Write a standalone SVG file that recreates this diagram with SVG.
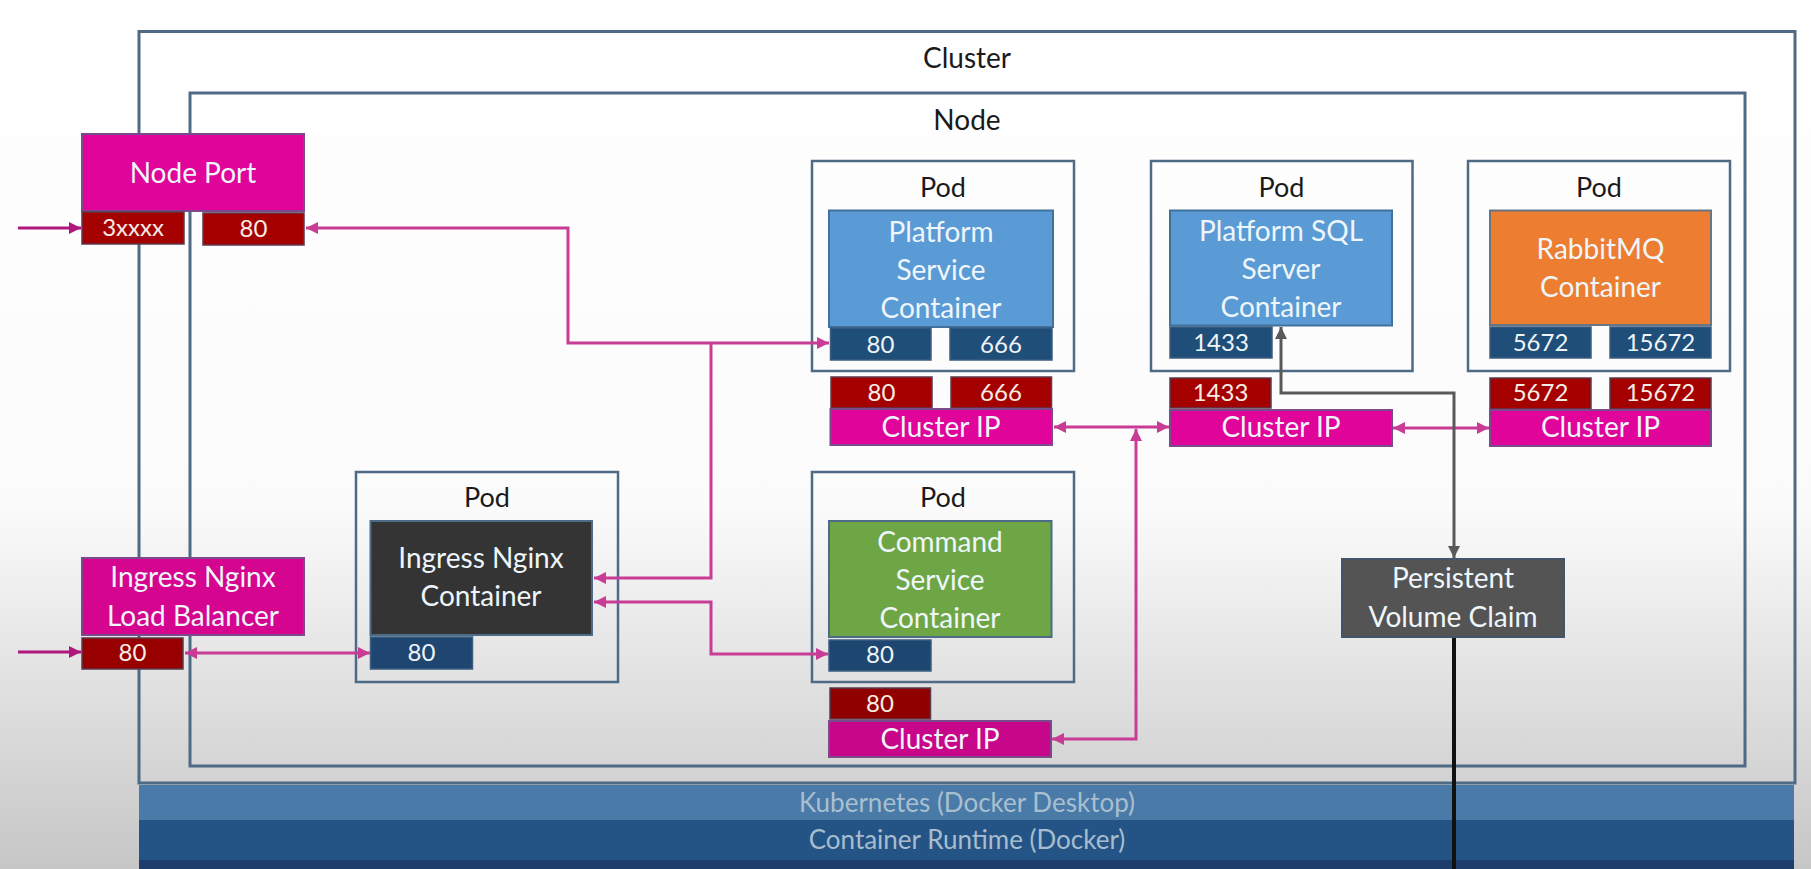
<svg xmlns="http://www.w3.org/2000/svg" width="1811" height="869" viewBox="0 0 1811 869">
<defs>
<linearGradient id="bg" x1="0" y1="0" x2="0" y2="869" gradientUnits="userSpaceOnUse">
<stop offset="0" stop-color="#ffffff"/>
<stop offset="0.58" stop-color="#fbfbfb"/>
<stop offset="1" stop-color="#c6c6c6"/>
</linearGradient>
<marker id="am" viewBox="0 0 10 10" refX="10" refY="5" markerWidth="12" markerHeight="12" markerUnits="userSpaceOnUse" orient="auto-start-reverse"><path d="M0,0 L10,5 L0,10 z" fill="#c83c96"/></marker>
<marker id="ae" viewBox="0 0 10 10" refX="10" refY="5" markerWidth="12" markerHeight="12" markerUnits="userSpaceOnUse" orient="auto-start-reverse"><path d="M0,0 L10,5 L0,10 z" fill="#b0177c"/></marker>
<marker id="ag" viewBox="0 0 10 10" refX="10" refY="5" markerWidth="12" markerHeight="12" markerUnits="userSpaceOnUse" orient="auto-start-reverse"><path d="M0,0 L10,5 L0,10 z" fill="#595959"/></marker>
<style>
text{font-family:Lato,"Open Sans","Liberation Sans",sans-serif;text-anchor:middle}
.frame{fill:none;stroke:#4f6a85;stroke-width:3}
.pod{fill:none;stroke:#4f6a85;stroke-width:2.5}
.title{font-size:28px;fill:#1a1a1a}
.podt{font-size:27px;fill:#1a1a1a}
.ct{font-size:28px;fill:#eef6fb}
.pt{font-size:24px;fill:#eef4f8}
.rt{font-size:24px;fill:#f6ece4}
.blue{fill:#5b9bd5;stroke:#41719c;stroke-width:2}
.green{fill:#6ea646;stroke:#4d6a86;stroke-width:2}
.orange{fill:#ed7d31;stroke:#6a7583;stroke-width:2}
.dark{fill:#343434;stroke:#4d6a86;stroke-width:2}
.pvc{fill:#545454;stroke:#44546a;stroke-width:2}
.bp{fill:#1f4e79;stroke:#3d5e80;stroke-width:1.5}
.rp{fill:#a50000;stroke:#5b3a50;stroke-width:1.5}
.mg{fill:#e0049b;stroke:#7a4a8c;stroke-width:2}
.bar{font-size:26px}
.cm{fill:none;stroke:#c83c96;stroke-width:3}
.ce{fill:none;stroke:#b0177c;stroke-width:3}
</style>
</defs>
<rect x="0" y="0" width="1811" height="869" fill="url(#bg)"/>

<g id="cluster">
<rect class="frame" x="139" y="31.5" width="1656" height="751.5"/>
<text class="title" x="967" y="68">Cluster</text>
</g>
<g id="node">
<rect class="frame" x="190" y="93" width="1555" height="673"/>
<text class="title" x="967" y="130">Node</text>
</g>

<g id="runtime-bars">
<rect x="139" y="785" width="1655" height="35" fill="#4a7aa8"/>
<rect x="139" y="820" width="1655" height="40" fill="#245486"/>
<rect x="139" y="860" width="1655" height="9" fill="#1f3d6c"/>
<text class="bar" x="967" y="812" fill="#a9bfcf">Kubernetes (Docker Desktop)</text>
<text class="bar" x="967" y="849" fill="#a7bdcd">Container Runtime (Docker)</text>
</g>

<g id="node-port">
<rect class="mg" x="82" y="134" width="222" height="77"/>
<text class="ct" x="193" y="183">Node Port</text>
<rect class="rp" x="82" y="212" width="102" height="32"/>
<text class="rt" x="133" y="236">3xxxx</text>
<rect class="rp" x="203" y="213" width="101" height="32"/>
<text class="rt" x="253.5" y="237">80</text>
</g>

<g id="ingress-lb">
<rect class="mg" x="82" y="558" width="222" height="77" style="fill:#d5058f"/>
<text class="ct" x="193" y="587">Ingress Nginx</text>
<text class="ct" x="193" y="626">Load Balancer</text>
<rect class="rp" x="82" y="638" width="101" height="31" style="fill:#980000"/>
<text class="rt" x="132.5" y="661">80</text>
</g>

<g id="pod-platform">
<rect class="pod" x="812" y="161" width="262" height="210"/>
<text class="podt" x="943" y="197">Pod</text>
<rect class="blue" x="829" y="210.5" width="224" height="116.5"/>
<text class="ct" x="941" y="242">Platform</text>
<text class="ct" x="941" y="280">Service</text>
<text class="ct" x="941" y="318">Container</text>
<rect class="bp" x="830.5" y="328" width="100.5" height="32"/>
<text class="pt" x="880.5" y="352.5">80</text>
<rect class="bp" x="950" y="328" width="102" height="32"/>
<text class="pt" x="1001" y="352.5">666</text>
</g>
<g id="cip-platform">
<rect class="rp" x="831" y="377" width="101" height="31"/>
<text class="rt" x="881.5" y="400.5">80</text>
<rect class="rp" x="951" y="377" width="100.5" height="31"/>
<text class="rt" x="1001" y="400.5">666</text>
<rect class="mg" x="830.5" y="409" width="221.5" height="36"/>
<text class="ct" x="941" y="437">Cluster IP</text>
</g>

<g id="pod-sql">
<rect class="pod" x="1151" y="161" width="261.5" height="210"/>
<text class="podt" x="1281.5" y="197">Pod</text>
<rect class="blue" x="1170" y="210.5" width="222" height="115"/>
<text class="ct" x="1281" y="241">Platform SQL</text>
<text class="ct" x="1281" y="279">Server</text>
<text class="ct" x="1281" y="317">Container</text>
<rect class="bp" x="1170" y="327" width="102" height="31"/>
<text class="pt" x="1221" y="351">1433</text>
</g>
<g id="cip-sql">
<rect class="rp" x="1170" y="378" width="101" height="30"/>
<text class="rt" x="1220.5" y="400.5">1433</text>
<rect class="mg" x="1170" y="410" width="222" height="36"/>
<text class="ct" x="1281" y="437">Cluster IP</text>
</g>

<g id="pod-rabbitmq">
<rect class="pod" x="1468" y="161" width="262" height="210"/>
<text class="podt" x="1599" y="197">Pod</text>
<rect class="orange" x="1490" y="210.5" width="221" height="114.5"/>
<text class="ct" x="1600.5" y="259">RabbitMQ</text>
<text class="ct" x="1600.5" y="297">Container</text>
<rect class="bp" x="1490" y="327" width="101" height="31"/>
<text class="pt" x="1540.5" y="351">5672</text>
<rect class="bp" x="1610" y="327" width="101" height="31"/>
<text class="pt" x="1660.5" y="351">15672</text>
</g>
<g id="cip-rabbitmq">
<rect class="rp" x="1490" y="378" width="101" height="31"/>
<text class="rt" x="1540.5" y="400.5">5672</text>
<rect class="rp" x="1610" y="378" width="101" height="31"/>
<text class="rt" x="1660.5" y="400.5">15672</text>
<rect class="mg" x="1490" y="410" width="221" height="36"/>
<text class="ct" x="1600.5" y="437">Cluster IP</text>
</g>

<g id="pod-ingress">
<rect class="pod" x="356" y="472" width="262" height="210"/>
<text class="podt" x="487" y="507">Pod</text>
<rect class="dark" x="370.5" y="521" width="221.5" height="114"/>
<text class="ct" x="481" y="568">Ingress Nginx</text>
<text class="ct" x="481" y="606">Container</text>
<rect class="bp" x="370.5" y="637" width="102" height="32" style="fill:#1f4670"/>
<text class="pt" x="421.5" y="661">80</text>
</g>

<g id="pod-command">
<rect class="pod" x="812" y="472" width="262" height="210"/>
<text class="podt" x="943" y="507">Pod</text>
<rect class="green" x="829" y="521" width="222.5" height="116"/>
<text class="ct" x="940" y="552">Command</text>
<text class="ct" x="940" y="590">Service</text>
<text class="ct" x="940" y="628">Container</text>
<rect class="bp" x="829" y="640" width="102" height="31" style="fill:#1d4670"/>
<text class="pt" x="880" y="663">80</text>
</g>
<g id="cip-command">
<rect class="rp" x="830" y="688" width="100.5" height="31" style="fill:#900000"/>
<text class="rt" x="880" y="712">80</text>
<rect class="mg" x="829" y="721" width="222" height="36" style="fill:#c8068a"/>
<text class="ct" x="940" y="749">Cluster IP</text>
</g>

<g id="pvc">
<rect class="pvc" x="1342" y="559" width="222" height="78"/>
<text class="ct" x="1453" y="588">Persistent</text>
<text class="ct" x="1453" y="627">Volume Claim</text>
</g>

<g id="connectors">
<path class="ce" d="M18,228 L81,228" marker-end="url(#ae)"/>
<path class="ce" d="M18,652 L81,652" marker-end="url(#ae)"/>
<path class="cm" d="M306,228 L568,228 L568,343 L829,343" marker-start="url(#am)" marker-end="url(#am)"/>
<path class="cm" d="M711,343 L711,578 L594,578" marker-end="url(#am)"/>
<path class="cm" d="M594,602 L711,602 L711,654 L828,654" marker-start="url(#am)" marker-end="url(#am)"/>
<path class="cm" d="M185,653 L370,653" marker-start="url(#am)" marker-end="url(#am)"/>
<path class="cm" d="M1054,427 L1169,427" marker-start="url(#am)" marker-end="url(#am)"/>
<path class="cm" d="M1136,429 L1136,739 L1052,739" marker-start="url(#am)" marker-end="url(#am)"/>
<path class="cm" d="M1393,428 L1489,428" marker-start="url(#am)" marker-end="url(#am)"/>
<path fill="none" stroke="#595959" stroke-width="3" d="M1281,327 L1281,393 L1454,393 L1454,558" marker-start="url(#ag)" marker-end="url(#ag)"/>
<path fill="none" stroke="#111111" stroke-width="4" d="M1454,638 L1454,869"/>
</g>
</svg>
